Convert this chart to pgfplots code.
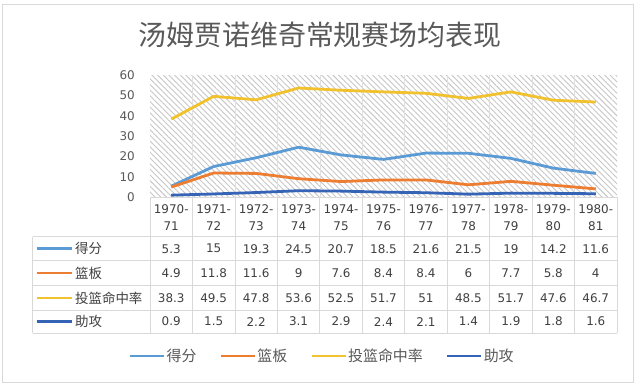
\documentclass[border=0pt]{standalone}
\usepackage{pgfplots}
\pgfplotsset{compat=1.18}
\usepackage{pgfplotstable}
\usetikzlibrary{patterns.meta}
\usepackage{fontspec}
\setmainfont{Noto Sans CJK SC}
\newfontfamily\numfont{DejaVu Sans}
\definecolor{cA}{HTML}{5B9BD5}
\definecolor{cB}{HTML}{ED7D31}
\definecolor{cC}{HTML}{F2C12E}
\definecolor{cD}{HTML}{3563B5}
\definecolor{ctext}{HTML}{595959}
\definecolor{ctab}{HTML}{404040}
\definecolor{cline}{HTML}{D9D9D9}
\pgfplotstableread{
x pts reb fg ast
0 5.3 4.9 38.3 0.9
1 15 11.8 49.5 1.5
2 19.3 11.6 47.8 2.2
3 24.5 9 53.6 3.1
4 20.7 7.6 52.5 2.9
5 18.5 8.4 51.7 2.4
6 21.6 8.4 51 2.1
7 21.5 6 48.5 1.4
8 19 7.7 51.7 1.9
9 14.2 5.8 47.6 1.8
10 11.6 4 46.7 1.6
}\data
\pgfplotsset{
  tabtext/.style={forget plot, draw=none, mark=none,
    point meta=explicit symbolic,
    nodes near coords={\pgfplotspointmeta},
    nodes near coords align={center},
    every node near coord/.append style={font=\numfont\fontsize{12}{14}\selectfont, text=ctab, inner sep=0pt, anchor=center}},
}
\begin{document}
\begin{tikzpicture}
\path[use as bounding box, fill=white] (0,0) rectangle (640bp,-387bp);
\draw[cline, line width=1bp] (2.5bp,-4bp) rectangle (633.5bp,-382bp);
\node[font=\fontsize{28}{32}\selectfont, text=ctext] at (320bp,-35bp) {汤姆贾诺维奇常规赛场均表现};
\begin{axis}[
  at={(150bp,-197bp)}, anchor=south west,
  scale only axis, width=467bp, height=122bp,
  xmin=-0.5, xmax=10.5, ymin=0, ymax=60,
  clip=false,
  axis line style={draw=none},
  major tick length=0pt, minor tick length=0pt,
  ytick={0,10,...,60},
  xtick={0,...,10},
  xticklabels={{1970-\\71},{1971-\\72},{1972-\\73},{1973-\\74},{1974-\\75},{1975-\\76},{1976-\\77},{1977-\\78},{1978-\\79},{1979-\\80},{1980-\\81}},
  minor xtick={0.5,1.5,...,9.5},
  xminorgrids, minor grid style={black!12, line width=0.6bp},
  /pgf/number format/assume math mode=true,
  yticklabel style={font=\numfont\fontsize{12}{14}\selectfont, text=ctext, anchor=east, inner sep=0pt, xshift=-15bp},
  xticklabel style={font=\numfont\fontsize{12}{17}\selectfont, text=ctab, align=center, anchor=north, inner sep=0pt, yshift=-7.5bp},
  axis background/.style={pattern={Lines[angle=-45, distance=4bp, line width=0.9bp]}, pattern color=black!22},
  legend style={at={(axis description cs:0.368,-1.303)}, anchor=center, draw=none, fill=none,
    legend columns=-1, font=\fontsize{15}{18}\selectfont, text=ctext, inner sep=0pt,
    nodes={inner sep=1.2bp},
    /tikz/every even column/.append style={column sep=22bp}},
  legend image code/.code={\draw[#1, line width=2.5bp] (0bp,0bp) -- (34bp,0bp);},
]
\addplot[cA, line width=2.8bp] table[x=x, y=pts] {\data};
\addlegendentry{得分}
\addplot[cB, line width=2.8bp] table[x=x, y=reb] {\data};
\addlegendentry{篮板}
\addplot[cC, line width=2.8bp] table[x=x, y=fg] {\data};
\addlegendentry{投篮命中率}
\addplot[cD, line width=2.8bp] table[x=x, y=ast] {\data};
\addlegendentry{助攻}
\addplot[tabtext] table[x=x, y expr=-25.43, meta=pts] {\data};
\addplot[tabtext] table[x=x, y expr=-37.48, meta=reb] {\data};
\addplot[tabtext] table[x=x, y expr=-49.6, meta=fg] {\data};
\addplot[tabtext] table[x=x, y expr=-61.3, meta=ast] {\data};
\end{axis}
% table grid
\draw[cline, line width=0.8bp] (150bp,-197bp) -- (617bp,-197bp);
\foreach \yy in {236.7,260.7,285.7,310,333.3}{
  \draw[cline, line width=0.8bp] (32.7bp,-\yy bp) -- (617bp,-\yy bp);
}
\draw[cline, line width=0.8bp] (32.7bp,-236.7bp) -- (32.7bp,-333.3bp);
\foreach \k in {0,...,11}{
  \pgfmathsetmacro{\xx}{150+\k*42.4545}
  \draw[cline, line width=0.8bp] (\xx bp,-197bp) -- (\xx bp,-333.3bp);
}
\foreach \c/\yy/\lab in {cA/248.7/得分, cB/273.2/篮板, cC/297.85/投篮命中率, cD/321.65/助攻}{
  \draw[\c, line width=2.5bp] (36.7bp,-\yy bp) -- (71.7bp,-\yy bp);
  \node[anchor=west, inner sep=0pt, font=\fontsize{13.5}{16}\selectfont, text=ctab] at (75bp,-\yy bp) {\lab};
}
\end{tikzpicture}
\end{document}
